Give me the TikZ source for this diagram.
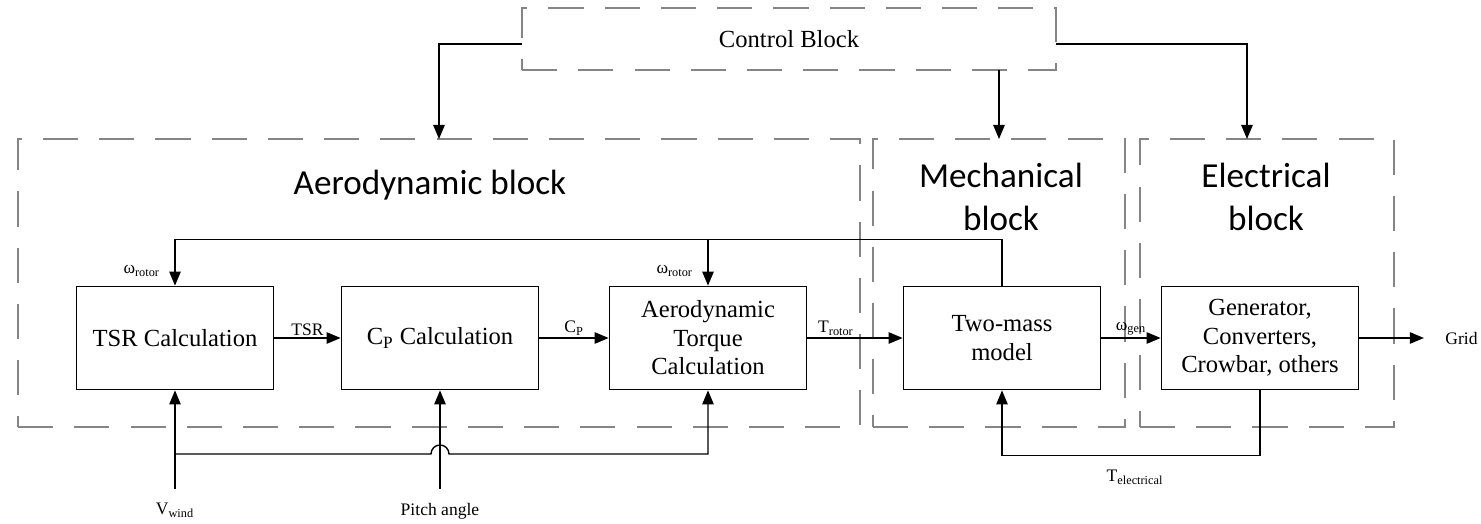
\documentclass[tikz,border=0pt]{standalone}
\usepackage{fontspec}
\setmainfont{Liberation Serif}
\newfontfamily\ttlfont{Carlito}
\usetikzlibrary{arrows.meta,positioning,calc}
\definecolor{dashgray}{HTML}{858585}
\tikzset{
  blk/.style={draw, line width=1pt, minimum width=3.94cm, minimum height=2.06cm, align=center, font=\fontsize{14}{16.2}\selectfont, inner sep=2pt},
  grp/.style={draw=dashgray, line width=1.1pt, dash pattern=on 20pt off 12pt, outer sep=0pt},
  arr/.style={-{Triangle[length=8pt,width=6.5pt]}, line width=0.8pt},
  wire/.style={line width=0.8pt},
  sig/.style={font=\fontsize{10}{12}\selectfont, inner sep=1pt},
  ttl/.style={font=\ttlfont\fontsize{20}{24}\selectfont, align=center},
}

\begin{document}
\begin{tikzpicture}[x=0.02cm, y=-0.02cm]
  \useasboundingbox (0,0) rectangle (1481,524);

  % dashed groups
  \node[grp, minimum width=10.68cm, minimum height=1.24cm, font=\fontsize{14}{16}\selectfont] (ctl) at (789,39) {Control Block};
  \node[grp, minimum width=16.84cm, minimum height=5.76cm] (aerog) at (439,283) {};
  \node[grp, minimum width=5.04cm, minimum height=5.76cm] (mechg) at (999,283) {};
  \node[grp, minimum width=5.08cm, minimum height=5.76cm] (elecg) at (1267,283) {};
  \node[ttl] at (430,185) {Aerodynamic block};
  \node[ttl] at (1001,197) {Mechanical\\block};
  \node[ttl] at (1266,197) {Electrical\\block};

  % blocks
  \node[blk] (tsr) at (175,338) {TSR Calculation};
  \node[blk] (cp) at (440,338) {C\textsubscript{P} Calculation};
  \node[blk] (aero) at (708,338) {Aerodynamic\\Torque\\Calculation};
  \node[blk] (two) at (1002,338) {Two-mass\\model};
  \node[blk] (gen) at (1260,338) {Generator,\\Converters,\\Crowbar, others};
  \node[sig, anchor=west, inner sep=0pt] (grid) at (1445,338) {Grid};

  \foreach \u/\v/\l/\p in {tsr/cp/TSR/0.5, cp/aero/C\textsubscript{P}/0.5, aero/two/T\textsubscript{rotor}/0.3, two/gen/ω\textsubscript{gen}/0.5}
    \draw[arr] (\u) -- node[sig, above, pos=\p] {\l} (\v);
  \draw[arr, shorten >=12pt] (gen) -- (grid);

  % control links
  \coordinate (ein) at (1247,139);
  \draw[arr] ($(ctl.west)+(0,5)$) -| (aerog.north);
  \draw[arr] (ctl.south -| mechg.north) -- (mechg.north);
  \draw[arr] ($(ctl.east)+(0,5)$) -| (ein);

  % rotor speed feedback
  \coordinate (fb) at ($(two.north)+(0,-46)$);
  \draw[arr] (two.north) -- (fb) -| (tsr.north);
  \draw[arr] (aero.north |- fb) -- (aero.north);
  \node[sig, anchor=south east] at ($(tsr.north)+(-13,-7)$) {ω\textsubscript{rotor}};
  \node[sig, anchor=south east] at ($(aero.north)+(-13,-7)$) {ω\textsubscript{rotor}};

  % inputs
  \coordinate (vin) at (tsr.south |- 0,489);
  \coordinate (pin) at (cp.south |- 0,489);
  \draw[arr] (vin) -- (tsr.south);
  \draw[arr] (pin) -- (cp.south);
  \draw[arr] (vin |- 0,454) -- ($(pin |- 0,454)+(-9,0)$) arc[start angle=180, end angle=360, radius=9] -| (aero.south);
  \node[sig, below=7pt of vin] (vw) {V\textsubscript{wind}};
  \node[sig, below=7pt of pin] (pa) {Pitch angle};

  % electrical torque
  \draw[arr] (gen.south) -- ++(0,65) -| (two.south);
  \node[sig] (te) at (1135,477) {T\textsubscript{electrical}};
\end{tikzpicture}
\end{document}
